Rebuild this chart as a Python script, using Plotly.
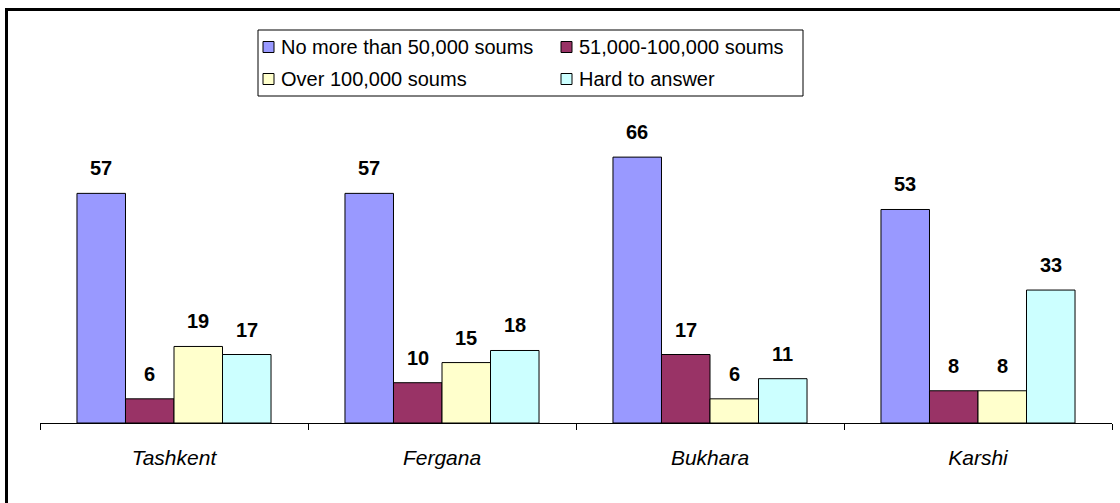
import plotly.graph_objects as go

cities = ["Tashkent", "Fergana", "Bukhara", "Karshi"]
series_names = ["No more than 50,000 soums", "51,000-100,000 soums",
                "Over 100,000 soums", "Hard to answer"]
le50k = [57, 57, 66, 53]
k51_100 = [6, 10, 17, 8]
over100k = [19, 15, 6, 8]
hard = [17, 18, 11, 33]
colors = ["#9999FF", "#993366", "#FFFFCC", "#CCFFFF"]

series = [le50k, k51_100, over100k, hard]
FONT = "Arial, Liberation Sans, sans-serif"

fig = go.Figure()
for name, vals, col in zip(series_names, series, colors):
    fig.add_trace(go.Bar(
        x=cities, y=vals, name=name, showlegend=False, hoverinfo="skip",
        marker=dict(color=col, line=dict(color="black", width=1)),
    ))

W, H = 1120, 503
ml, mr, mt, mb = 40, 8, 141, 80
pw, ph = W - ml - mr, H - mt - mb

def px_x(p):
    return (p - ml) / pw

def px_y(p):
    return (H - mb - p) / ph

bar_px = 48.5
annotations = []
for j, vals in enumerate(series):
    for c, v in zip(cities, vals):
        annotations.append(dict(
            x=c, y=v, xref="x", yref="y", text=f"<b>{v}</b>",
            showarrow=False, xshift=(j - 1.5) * bar_px, yshift=25,
            yanchor="middle", font=dict(size=20, color="black", family=FONT)))

shapes = []
# legend box
shapes.append(dict(type="rect", xref="paper", yref="paper",
                   x0=px_x(258), x1=px_x(803), y0=px_y(96), y1=px_y(30),
                   line=dict(color="black", width=1), fillcolor="white", layer="above"))
col_x = [263, 561]
row_y = [47, 79]
for k, (name, col) in enumerate(zip(series_names, colors)):
    cx = col_x[k % 2]
    cy = row_y[k // 2]
    shapes.append(dict(type="rect", xref="paper", yref="paper",
                       x0=px_x(cx), x1=px_x(cx + 11), y0=px_y(cy + 5.5), y1=px_y(cy - 5.5),
                       line=dict(color="black", width=1), fillcolor=col, layer="above"))
    annotations.append(dict(x=px_x(cx + 16), y=px_y(cy), xref="paper", yref="paper",
                            text=name, showarrow=False, xanchor="left", yanchor="middle",
                            font=dict(size=20, color="black", family=FONT)))
# outer frame
shapes.append(dict(type="rect", xref="paper", yref="paper",
                   x0=px_x(6.5), x1=px_x(1140), y0=px_y(530), y1=px_y(9.5),
                   line=dict(color="black", width=3), layer="above"))

fig.update_layout(
    width=W, height=H,
    margin=dict(l=ml, r=mr, t=mt, b=mb),
    barmode="group", bargap=0.276, bargroupgap=0,
    plot_bgcolor="white", paper_bgcolor="white",
    font=dict(family=FONT, size=16, color="black"),
    annotations=annotations,
    shapes=shapes,
    showlegend=False,
    hovermode=False,
    xaxis=dict(
        showline=True, linecolor="black", linewidth=1,
        ticks="outside", ticklen=6, tickcolor="black", tickson="boundaries",
        tickfont=dict(size=21, style="italic", family=FONT),
        showgrid=False, ticklabelstandoff=16, automargin=False,
    ),
    yaxis=dict(range=[0, 70], visible=False, showgrid=False, automargin=False),
)

fig.write_html("out.html", config={"displayModeBar": False},
               post_script="document.body.style.margin='0';")
